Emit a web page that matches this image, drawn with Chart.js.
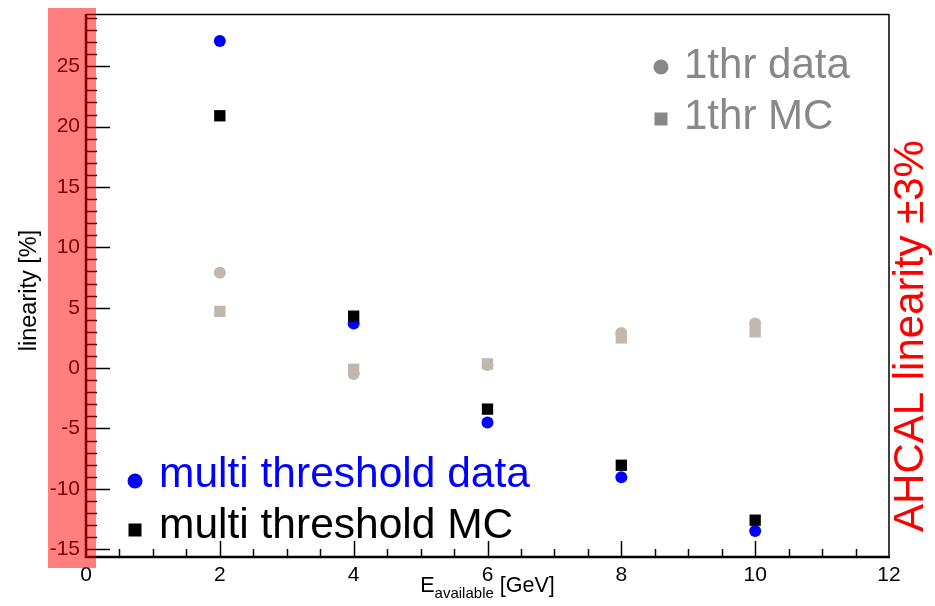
<!DOCTYPE html>
<html><head><meta charset="utf-8">
<script src="https://cdn.jsdelivr.net/npm/chart.js@4.4.0/dist/chart.umd.min.js"></script>
<style>html,body{margin:0;padding:0;background:#fff;}canvas{display:block;}</style>
</head><body>
<canvas id="c" width="935" height="606"></canvas>
<script>
// ---- data ----
const energies = [2, 4, 6, 8, 10];
const multiData = [27.1, 3.7, -4.5, -9.05, -13.5];
const multiMC = [20.9, 4.3, -3.4, -8.05, -12.6];
const thrData = [7.9, -0.5, 0.25, 2.9, 3.7];
const thrMC = [4.7, -0.1, 0.35, 2.5, 3.0];
const xTicks = [0, 2, 4, 6, 8, 10, 12];
const yTicks = [-15, -10, -5, 0, 5, 10, 15, 20, 25];
const xRange = [0, 12];
const yRange = [-15.65, 29.33];
const labels = {
  multiData: 'multi threshold data',
  multiMC: 'multi threshold MC',
  thrData: '1thr data',
  thrMC: '1thr MC',
  yTitle: 'linearity [%]',
  xTitleMain: 'E',
  xTitleSub: 'available',
  xTitleUnit: ' [GeV]',
  band: 'AHCAL linearity \u00B13%'
};

const FONT = "'Liberation Sans', Arial, Helvetica, sans-serif";
const GRAY_PT = '#c0b7ae';
const GRAY_LEG = '#888888';

const pts = arr => energies.map((x, i) => ({x: x, y: arr[i]}));

const decor = {
  id: 'decor',
  beforeDatasetsDraw(chart) {
    const {ctx, chartArea: a, scales: {x, y}} = chart;
    ctx.save();
    ctx.strokeStyle = '#000';
    // y ticks (inward)
    ctx.lineWidth = 1.5;
    for (let v = Math.ceil(yRange[0]); v <= Math.floor(yRange[1]); v++) {
      const py = Math.round(y.getPixelForValue(v)) + 0.5;
      const len = (v % 5 === 0) ? 24 : 11;
      ctx.beginPath(); ctx.moveTo(a.left, py); ctx.lineTo(a.left + len, py); ctx.stroke();
    }
    // x ticks (inward)
    for (let v = xRange[0] + 0.5; v < xRange[1]; v += 0.5) {
      const px = Math.round(x.getPixelForValue(v)) + 0.5;
      const len = (v % 2 === 0) ? 16 : 8;
      ctx.beginPath(); ctx.moveTo(px, a.bottom); ctx.lineTo(px, a.bottom - len); ctx.stroke();
    }
    // frame
    ctx.lineWidth = 1.5;
    ctx.beginPath(); ctx.moveTo(a.left, a.top + 0.5); ctx.lineTo(a.right, a.top + 0.5); ctx.stroke();
    ctx.beginPath(); ctx.moveTo(a.right, a.top); ctx.lineTo(a.right, a.bottom); ctx.stroke();
    ctx.lineWidth = 2.5;
    ctx.beginPath(); ctx.moveTo(a.left, a.top); ctx.lineTo(a.left, a.bottom + 1); ctx.stroke();
    ctx.beginPath(); ctx.moveTo(a.left - 1, a.bottom); ctx.lineTo(a.right + 1, a.bottom); ctx.stroke();
    ctx.restore();
  },
  afterDraw(chart) {
    const {ctx, chartArea: a} = chart;
    ctx.save();
    // legends
    ctx.textBaseline = 'alphabetic';
    ctx.textAlign = 'left';
    ctx.font = '42px ' + FONT;
    // top-right gray legend
    ctx.fillStyle = GRAY_LEG;
    ctx.beginPath(); ctx.arc(661, 67, 7.5, 0, Math.PI * 2); ctx.fill();
    ctx.fillText(labels.thrData, 684, 78);
    ctx.fillRect(654.5, 112.5, 13, 13);
    ctx.fillText(labels.thrMC, 684, 129);
    // bottom-left legend
    ctx.font = '42.5px ' + FONT;
    ctx.fillStyle = '#0000ff';
    ctx.beginPath(); ctx.arc(135, 481, 7.5, 0, Math.PI * 2); ctx.fill();
    ctx.fillText(labels.multiData, 159, 487);
    ctx.fillStyle = '#000';
    ctx.fillRect(128.5, 523.5, 13, 13);
    ctx.fillText(labels.multiMC, 159, 538);

    // x title
    ctx.fillStyle = '#000';
    const fMain = '21.5px ' + FONT, fSub = '15px ' + FONT;
    ctx.font = fMain; const w1 = ctx.measureText(labels.xTitleMain).width;
    const w3 = ctx.measureText(labels.xTitleUnit).width;
    ctx.font = fSub; const w2 = ctx.measureText(labels.xTitleSub).width;
    const cx = (a.left + a.right) / 2;
    let sx = cx - (w1 + w2 + w3) / 2;
    const by = 592;
    ctx.font = fMain; ctx.fillText(labels.xTitleMain, sx, by); sx += w1;
    ctx.font = fSub; ctx.fillText(labels.xTitleSub, sx, by + 6); sx += w2;
    ctx.font = fMain; ctx.fillText(labels.xTitleUnit, sx, by);

    // y title
    ctx.save();
    ctx.translate(36, (a.top + a.bottom) / 2 + 5);
    ctx.rotate(-Math.PI / 2);
    ctx.textAlign = 'center';
    ctx.font = '23.5px ' + FONT;
    ctx.fillText(labels.yTitle, 0, 0);
    ctx.restore();

    // right rotated red label
    ctx.save();
    ctx.translate(923, 336);
    ctx.rotate(-Math.PI / 2);
    ctx.textAlign = 'center';
    ctx.fillStyle = '#ff0000';
    ctx.font = '42px ' + FONT;
    ctx.fillText(labels.band, 0, 0);
    ctx.restore();

    // translucent red band over the y axis
    ctx.fillStyle = 'rgba(255,0,0,0.5)';
    ctx.fillRect(a.left - 38, a.top - 6, 48, a.bottom - a.top + 17);
    ctx.restore();
  }
};

new Chart(document.getElementById('c'), {
  type: 'scatter',
  data: {
    datasets: [
      {label: labels.thrData, data: pts(thrData), pointStyle: 'circle', pointRadius: 6, pointHoverRadius: 6,
       backgroundColor: GRAY_PT, borderWidth: 0, order: 4},
      {label: labels.thrMC, data: pts(thrMC), pointStyle: 'rect', pointRadius: 8, pointHoverRadius: 8,
       backgroundColor: GRAY_PT, borderWidth: 0, order: 3},
      {label: labels.multiData, data: pts(multiData), pointStyle: 'circle', pointRadius: 6, pointHoverRadius: 6,
       backgroundColor: '#0000ff', borderWidth: 0, order: 2},
      {label: labels.multiMC, data: pts(multiMC), pointStyle: 'rect', pointRadius: 8, pointHoverRadius: 8,
       backgroundColor: '#000000', borderWidth: 0, order: 1}
    ]
  },
  options: {
    responsive: false,
    animation: false,
    devicePixelRatio: 1,
    layout: {padding: {top: 14, right: 46, left: 0, bottom: 0}},
    plugins: {legend: {display: false}, tooltip: {enabled: false}},
    events: [],
    scales: {
      x: {
        type: 'linear', min: xRange[0], max: xRange[1],
        afterBuildTicks: s => { s.ticks = xTicks.map(v => ({value: v})); },
        afterFit: s => { s.height = 49; s.paddingLeft = 0; s.paddingRight = 0; },
        grid: {display: false, drawTicks: false},
        border: {display: false},
        ticks: {font: {family: FONT, size: 21}, color: '#000', padding: 6, maxRotation: 0, autoSkip: false}
      },
      y: {
        type: 'linear', min: yRange[0], max: yRange[1],
        afterBuildTicks: s => { s.ticks = yTicks.map(v => ({value: v})); },
        afterFit: s => { s.width = 86; s.paddingTop = 0; s.paddingBottom = 0; },
        grid: {display: false, drawTicks: false},
        border: {display: false},
        ticks: {font: {family: FONT, size: 21}, color: '#000', padding: 6, autoSkip: false}
      }
    }
  },
  plugins: [decor]
});
</script>
</body></html>
